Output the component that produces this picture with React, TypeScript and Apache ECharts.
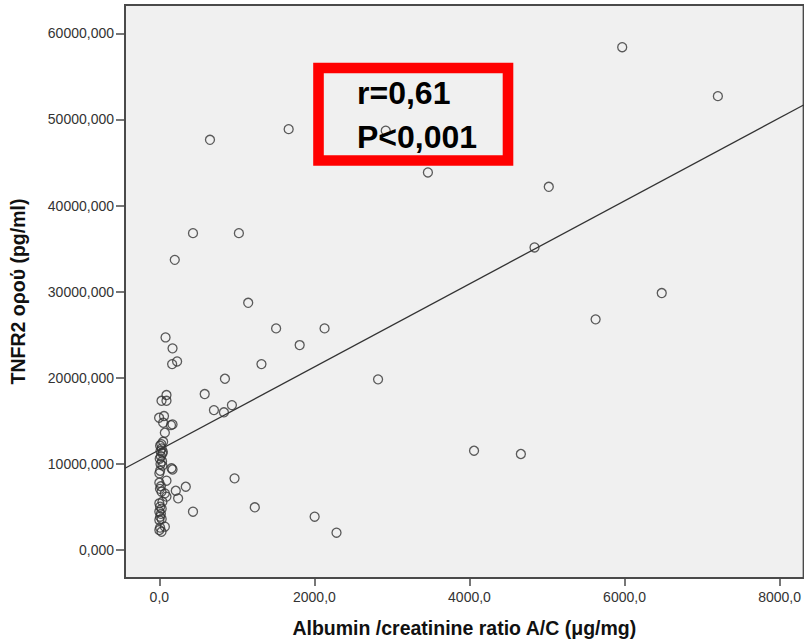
import React, { useEffect, useRef } from "react";
import * as echarts from "echarts";

// Albumin/creatinine ratio A/C (μg/mg)
const albuminCreatinine: number[] = [
  5970, 7204, 1668, 653, 2920, 3464, 5023, 434, 1026, 4839,
  199, 6480, 1146, 5627, 1506, 2131, 1810, 1317, 2821, 846,
  585, 936, 704, 833, 4059, 4663, 970, 1231, 2003, 2285,
  434, 341, 242, 212, 80, 170, 165, 229, 92, 28,
  92, -3, 60, 49, 170, 150, 71, 49, 10, 30,
  15, 40, 20, 5, 35, 15, 40, 157, 170, 10,
  0, 92, 0, 20, 28, 71, 92, 0, 10, 30,
  0, 20, 10, 30, 0, 71, 0, 28, 10, 45,
  25, 8, 40,
];

// TNFR2 ορού (pg/ml)
const tnfr2Serum: number[] = [
  58400, 52710, 48880, 47640, 48700, 43850, 42180, 36800, 36800, 35140,
  33700, 29840, 28710, 26790, 25740, 25740, 23800, 21590, 19820, 19890,
  18110, 16830, 16250, 15990, 11530, 11150, 8320, 4960, 3870, 2010,
  4450, 7350, 6000, 6880, 24690, 23420, 21590, 21900, 18000, 17330,
  17330, 15360, 15560, 14780, 14590, 14500, 13620, 12570, 12100, 11800,
  11500, 11200, 10900, 10600, 10300, 9985, 9800, 9490, 9350, 9200,
  8900, 8050, 7810, 7400, 6770, 6580, 6200, 5420, 5030, 4800,
  4450, 4200, 3870, 3600, 3480, 2710, 2320, 2120, 2600, 11400,
  12300, 7100, 5600,
];

// Fit line (linear regression) parameters
const fitIntercept = 11625;
const fitSlope = 4.82;

const xTicks: number[] = [0, 2000, 4000, 6000, 8000];
const yTicks: number[] = [0, 10000, 20000, 30000, 40000, 50000, 60000];

const statLines: string[] = ["r=0,61", "P<0,001"];

const X_MIN = -443;
const X_MAX = 8310;
const Y_MIN = -3252;
const Y_MAX = 63298;

export default function App() {
  const ref = useRef<HTMLDivElement>(null);

  useEffect(() => {
    if (!ref.current) return;
    const chart = echarts.init(ref.current, null, { renderer: "svg" });
    const font = "'Liberation Sans', Arial, sans-serif";
    const points = albuminCreatinine.map((x, i) => [x, tnfr2Serum[i]]);
    const fit = [
      [X_MIN, fitIntercept + fitSlope * X_MIN],
      [X_MAX, fitIntercept + fitSlope * X_MAX],
    ];

    chart.setOption({
      animation: false,
      backgroundColor: "#ffffff",
      grid: {
        left: 125,
        right: -2,
        top: 5,
        bottom: 65,
        show: true,
        backgroundColor: "#f0f0f0",
        borderColor: "#4a4a4a",
        borderWidth: 2,
      },
      xAxis: {
        type: "value",
        min: X_MIN,
        max: X_MAX,
        name: "Albumin /creatinine ratio A/C (μg/mg)",
        nameLocation: "middle",
        nameGap: 40,
        nameTextStyle: { fontFamily: font, fontWeight: "bold", fontSize: 19.5, color: "#111" },
        axisLine: { show: true, onZero: false, lineStyle: { color: "#4a4a4a", width: 2 } },
        axisTick: { show: true, length: 8, customValues: xTicks, lineStyle: { color: "#4a4a4a", width: 1.5 } },
        axisLabel: {
          customValues: xTicks,
          margin: 12,
          fontFamily: font,
          fontSize: 14,
          color: "#333",
          formatter: (v: number) => v.toFixed(1).replace(".", ","),
        },
        splitLine: { show: false },
      },
      yAxis: {
        type: "value",
        min: Y_MIN,
        max: Y_MAX,
        name: "TNFR2 ορού (pg/ml)",
        nameLocation: "middle",
        nameGap: 97,
        nameRotate: 90,
        nameTextStyle: { fontFamily: font, fontWeight: "bold", fontSize: 19.5, color: "#111" },
        axisLine: { show: true, onZero: false, lineStyle: { color: "#4a4a4a", width: 2 } },
        axisTick: { show: true, length: 9, customValues: yTicks, lineStyle: { color: "#4a4a4a", width: 1.5 } },
        axisLabel: {
          customValues: yTicks,
          margin: 11,
          fontFamily: font,
          fontSize: 14,
          color: "#333",
          formatter: (v: number) => v.toFixed(3).replace(".", ","),
        },
        splitLine: { show: false },
      },
      series: [
        {
          type: "line",
          data: fit,
          showSymbol: false,
          symbol: "none",
          lineStyle: { color: "#333", width: 1.3 },
          clip: true,
          silent: true,
          z: 2,
        },
        {
          type: "scatter",
          data: points,
          symbol: "circle",
          symbolSize: 9,
          itemStyle: { color: "rgba(0,0,0,0)", borderColor: "#333", borderWidth: 1.3 },
          z: 3,
        },
      ],
      graphic: [
        {
          type: "rect",
          shape: { x: 318.5, y: 68, width: 189.5, height: 92.5 },
          style: { fill: "rgba(0,0,0,0)", stroke: "#ff0000", lineWidth: 10.6 },
          z: 10,
        },
        {
          type: "text",
          x: 357,
          y: 93,
          style: {
            text: statLines[0],
            fontFamily: font,
            fontWeight: "bold",
            fontSize: 32,
            fill: "#000",
            verticalAlign: "middle",
            align: "left",
          },
          z: 11,
        },
        {
          type: "text",
          x: 357,
          y: 137,
          style: {
            text: statLines[1],
            fontFamily: font,
            fontWeight: "bold",
            fontSize: 32,
            fill: "#000",
            verticalAlign: "middle",
            align: "left",
          },
          z: 11,
        },
      ],
    });

    return () => chart.dispose();
  }, []);

  return (
    <div
      ref={ref}
      style={{ position: "absolute", left: 0, top: 0, width: 804, height: 643 }}
    />
  );
}
